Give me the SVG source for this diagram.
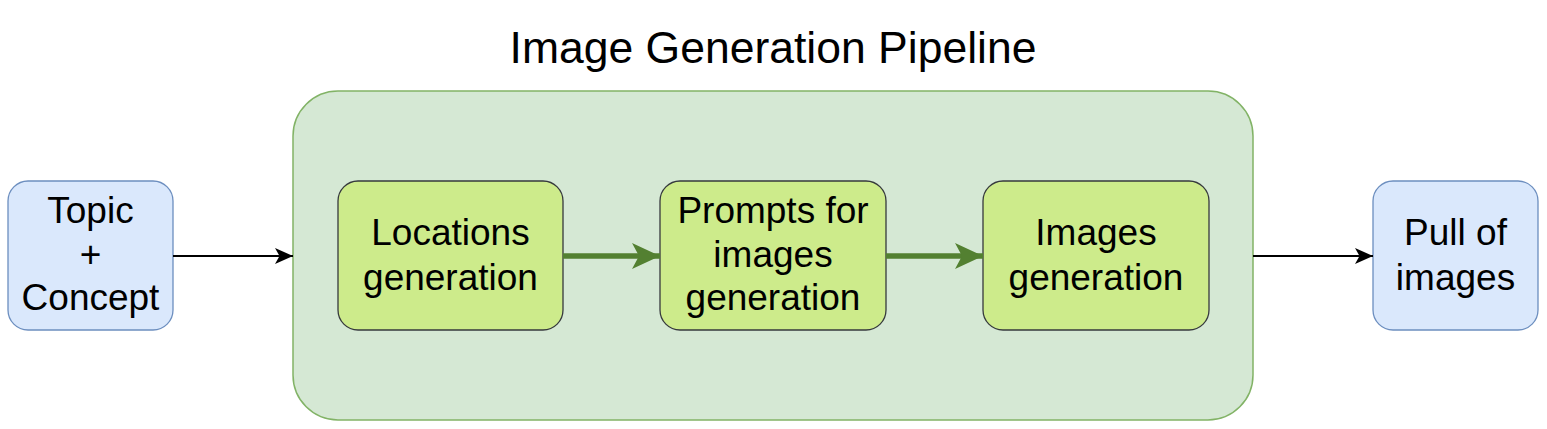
<svg xmlns="http://www.w3.org/2000/svg" width="1547" height="429" viewBox="0 0 1547 429">
<style>
text{font-family:"Liberation Sans",Arial,sans-serif;fill:#000;text-anchor:middle}
.lbl{font-size:37px}
.blue{fill:#dae8fc;stroke:#6c8ebf;stroke-width:1.3}
.lime{fill:#cdeb8b;stroke:#36393d;stroke-width:1.3}
.cont{fill:#d5e8d4;stroke:#82b366;stroke-width:1.5}
.blk{stroke:#000;stroke-width:2.2;fill:none}
.grn{stroke:#538031;stroke-width:5.5;fill:none}
</style>
<defs>
<marker id="ab" viewBox="0 0 18 16" refX="18" refY="8" markerWidth="18" markerHeight="16" markerUnits="userSpaceOnUse" orient="auto">
<path d="M0,0 L18,8 L0,16 L4.5,8 Z" fill="#000"/>
</marker>
<marker id="ag" viewBox="0 0 28 26" refX="28" refY="13" markerWidth="28" markerHeight="26" markerUnits="userSpaceOnUse" orient="auto">
<path d="M0,0 L28,13 L0,26 L7,13 Z" fill="#538031"/>
</marker>
</defs>
<rect width="1547" height="429" fill="#fff"/>
<g id="title"><text x="773" y="63" style="font-size:44.5px">Image Generation Pipeline</text></g>
<g id="pipeline"><rect class="cont" x="293" y="91" width="960" height="329" rx="45" ry="45"/></g>
<g id="topic"><rect class="blue" x="8" y="181" width="165" height="149" rx="20" ry="20"/>
<text class="lbl" x="90.5" y="223">Topic</text><text class="lbl" x="90.5" y="267">+</text><text class="lbl" x="90.5" y="310">Concept</text></g>
<g id="locations"><rect class="lime" x="338" y="181" width="225" height="149" rx="20" ry="20"/>
<text class="lbl" x="450.5" y="245">Locations</text><text class="lbl" x="450.5" y="290">generation</text></g>
<g id="prompts"><rect class="lime" x="660" y="181" width="226" height="149" rx="20" ry="20"/>
<text class="lbl" x="773" y="223">Prompts for</text><text class="lbl" x="773" y="267">images</text><text class="lbl" x="773" y="310">generation</text></g>
<g id="images"><rect class="lime" x="983" y="181" width="226" height="149" rx="20" ry="20"/>
<text class="lbl" x="1096" y="245">Images</text><text class="lbl" x="1096" y="290">generation</text></g>
<g id="pull"><rect class="blue" x="1373" y="181" width="165" height="149" rx="20" ry="20"/>
<text class="lbl" x="1455.5" y="245">Pull of</text><text class="lbl" x="1455.5" y="290">images</text></g>
<g id="connectors">
<path class="blk" d="M173,256 L293,256" marker-end="url(#ab)"/>
<path class="grn" d="M563,256 L660,256" marker-end="url(#ag)"/>
<path class="grn" d="M886,256 L983,256" marker-end="url(#ag)"/>
<path class="blk" d="M1253,256 L1373,256" marker-end="url(#ab)"/>
</g>
</svg>
